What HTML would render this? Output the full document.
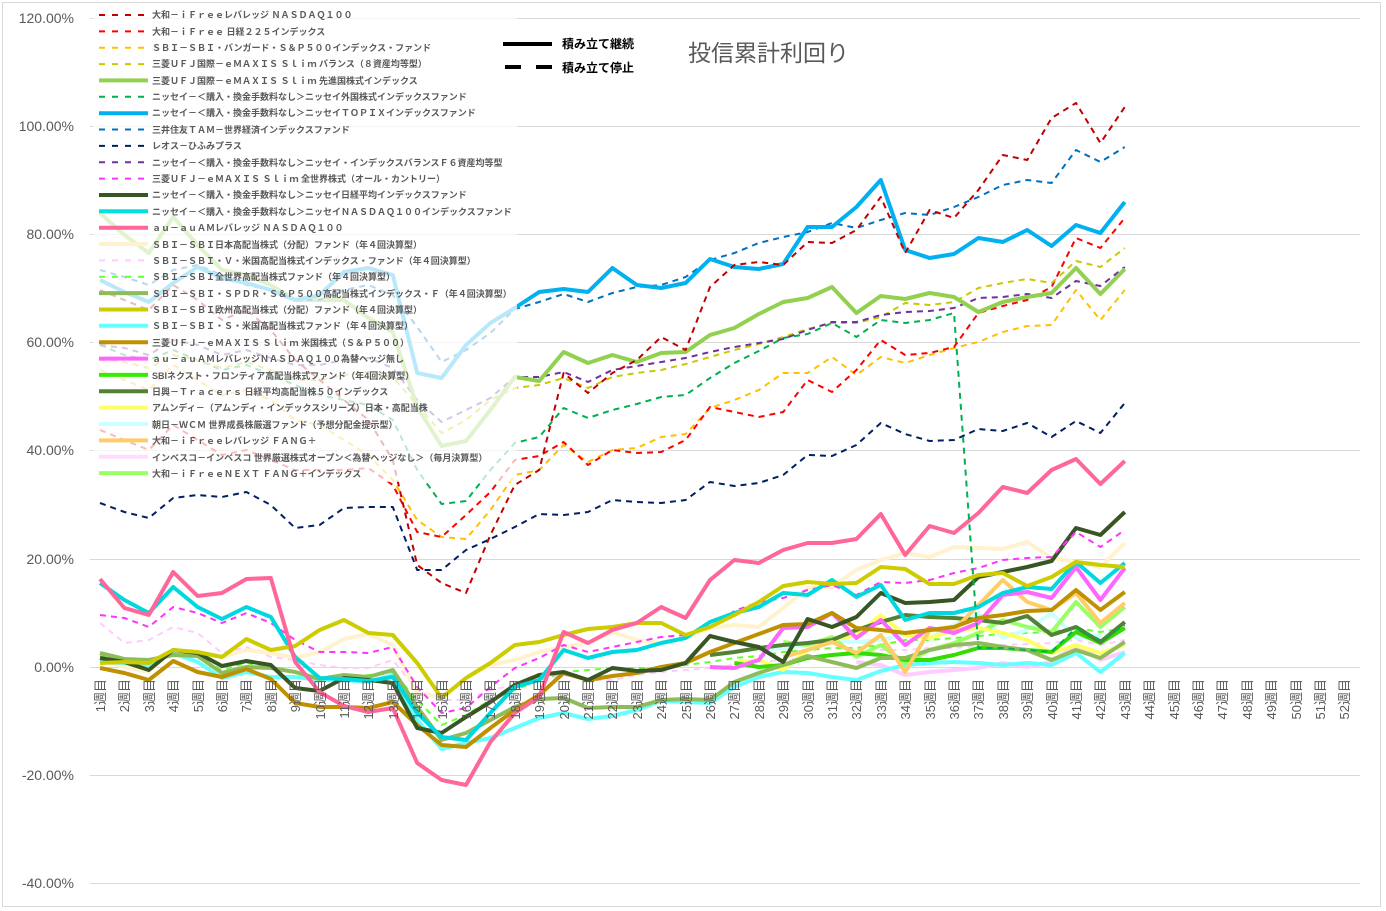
<!DOCTYPE html>
<html><head><meta charset="utf-8"><style>
html,body{margin:0;padding:0;background:#fff;}
svg{display:block;}
.yl{font-family:"Liberation Sans","Noto Sans CJK JP",sans-serif;font-size:14px;fill:#595959;}
.xl{font-family:"Liberation Sans","Noto Sans CJK JP",sans-serif;font-size:13px;fill:#595959;}
.lg{font-family:"Liberation Sans","Noto Sans CJK JP",sans-serif;font-size:9px;font-weight:bold;fill:#595959;}
</style></head><body>
<svg id="c" width="1386" height="911" viewBox="0 0 1386 911" xmlns="http://www.w3.org/2000/svg">
<rect x="0" y="0" width="1386" height="911" fill="#fff"/>
<rect x="2.5" y="2.5" width="1378" height="904" fill="none" stroke="#d9d9d9"/>
<g stroke="#d9d9d9" stroke-width="1">
<line x1="90" x2="1360" y1="18.5" y2="18.5"/><line x1="90" x2="1360" y1="126.5" y2="126.5"/>
<line x1="90" x2="1360" y1="234.5" y2="234.5"/><line x1="90" x2="1360" y1="342.5" y2="342.5"/>
<line x1="90" x2="1360" y1="450.5" y2="450.5"/><line x1="90" x2="1360" y1="559.5" y2="559.5"/>
<line x1="90" x2="1360" y1="667.5" y2="667.5"/><line x1="90" x2="1360" y1="775.5" y2="775.5"/>
<line x1="90" x2="1360" y1="883.5" y2="883.5"/>
</g>
<g class="yl" text-anchor="end">
<text x="74" y="23">120.00%</text><text x="74" y="131">100.00%</text><text x="74" y="239">80.00%</text>
<text x="74" y="347">60.00%</text><text x="74" y="455">40.00%</text><text x="74" y="564">20.00%</text>
<text x="74" y="672">0.00%</text><text x="74" y="780">-20.00%</text><text x="74" y="888">-40.00%</text>
</g>
<g id="series"></g>
<rect x="93" y="5" width="424" height="477" fill="#fff" fill-opacity="0.72"/>
<g id="leg"></g>
<g class="lg">
<text x="152" y="18">大和－ｉＦｒｅｅレバレッジ ＮＡＳＤＡＱ１００</text>
<text x="152" y="35">大和－ｉＦｒｅｅ 日経２２５インデックス</text>
<text x="152" y="51">ＳＢＩ－ＳＢＩ・バンガード・Ｓ＆Ｐ５００インデックス・ファンド</text>
<text x="152" y="67">三菱ＵＦＪ国際－ｅＭＡＸＩＳ Ｓｌｉｍ バランス（８資産均等型）</text>
<text x="152" y="84">三菱ＵＦＪ国際－ｅＭＡＸＩＳ Ｓｌｉｍ 先進国株式インデックス</text>
<text x="152" y="100">ニッセイ－＜購入・換金手数料なし＞ニッセイ外国株式インデックスファンド</text>
<text x="152" y="116">ニッセイ－＜購入・換金手数料なし＞ニッセイＴＯＰＩＸインデックスファンド</text>
<text x="152" y="133">三井住友ＴＡＭ－世界経済インデックスファンド</text>
<text x="152" y="149">レオス－ひふみプラス</text>
<text x="152" y="166">ニッセイ－＜購入・換金手数料なし＞ニッセイ・インデックスバランスＦ６資産均等型</text>
<text x="152" y="182">三菱ＵＦＪ－ｅＭＡＸＩＳ Ｓｌｉｍ 全世界株式（オール・カントリー）</text>
<text x="152" y="198">ニッセイ－＜購入・換金手数料なし＞ニッセイ日経平均インデックスファンド</text>
<text x="152" y="215">ニッセイ－＜購入・換金手数料なし＞ニッセイＮＡＳＤＡＱ１００インデックスファンド</text>
<text x="152" y="231">ａｕ－ａｕＡＭレバレッジ ＮＡＳＤＡＱ１００</text>
<text x="152" y="248">ＳＢＩ－ＳＢＩ日本高配当株式（分配）ファンド（年４回決算型）</text>
<text x="152" y="264">ＳＢＩ－ＳＢＩ・Ｖ・米国高配当株式インデックス・ファンド（年４回決算型）</text>
<text x="152" y="280">ＳＢＩ－ＳＢＩ全世界高配当株式ファンド（年４回決算型）</text>
<text x="152" y="297">ＳＢＩ－ＳＢＩ・ＳＰＤＲ・Ｓ＆Ｐ５００高配当株式インデックス・Ｆ（年４回決算型）</text>
<text x="152" y="313">ＳＢＩ－ＳＢＩ欧州高配当株式（分配）ファンド（年４回決算型）</text>
<text x="152" y="329">ＳＢＩ－ＳＢＩ・Ｓ・米国高配当株式ファンド（年４回決算型）</text>
<text x="152" y="346">三菱ＵＦＪ－ｅＭＡＸＩＳ Ｓｌｉｍ 米国株式（Ｓ＆Ｐ５００）</text>
<text x="152" y="362">ａｕ－ａｕＡＭレバレッジＮＡＳＤＡＱ１００為替ヘッジ無し</text>
<text x="152" y="379">SBIネクスト・フロンティア高配当株式ファンド（年4回決算型）</text>
<text x="152" y="395">日興－Ｔｒａｃｅｒｓ 日経平均高配当株５０インデックス</text>
<text x="152" y="411">アムンディ－（アムンディ・インデックスシリーズ）日本・高配当株</text>
<text x="152" y="428">朝日－ＷＣＭ 世界成長株厳選ファンド（予想分配金提示型）</text>
<text x="152" y="444">大和－ｉＦｒｅｅレバレッジ ＦＡＮＧ＋</text>
<text x="152" y="461">インベスコ－インベスコ 世界厳選株式オープン＜為替ヘッジなし＞（毎月決算型）</text>
<text x="152" y="477">大和－ｉＦｒｅｅＮＥＸＴ ＦＡＮＧ＋インデックス</text>
</g>
<line x1="503" x2="552" y1="44" y2="44" stroke="#000" stroke-width="4"/>
<line x1="505" x2="552" y1="67" y2="67" stroke="#000" stroke-width="4" stroke-dasharray="16,15"/>
<g font-family="Liberation Sans,Noto Sans CJK JP,sans-serif" font-weight="bold" font-size="12" fill="#000">
<text x="562" y="48">積み立て継続</text><text x="562" y="72">積み立て停止</text></g>
<text x="688" y="61" font-family="Liberation Sans,Noto Sans CJK JP,sans-serif" font-size="23" fill="#595959">投信累計利回り</text>
<g class="xl" text-anchor="end">
<text transform="translate(105,679) rotate(-90)">1週目</text><text transform="translate(129,679) rotate(-90)">2週目</text><text transform="translate(154,679) rotate(-90)">3週目</text><text transform="translate(178,679) rotate(-90)">4週目</text><text transform="translate(203,679) rotate(-90)">5週目</text><text transform="translate(227,679) rotate(-90)">6週目</text><text transform="translate(251,679) rotate(-90)">7週目</text><text transform="translate(276,679) rotate(-90)">8週目</text><text transform="translate(300,679) rotate(-90)">9週目</text><text transform="translate(325,679) rotate(-90)">10週目</text><text transform="translate(349,679) rotate(-90)">11週目</text><text transform="translate(373,679) rotate(-90)">12週目</text><text transform="translate(398,679) rotate(-90)">13週目</text><text transform="translate(422,679) rotate(-90)">14週目</text><text transform="translate(447,679) rotate(-90)">15週目</text><text transform="translate(471,679) rotate(-90)">16週目</text><text transform="translate(495,679) rotate(-90)">17週目</text><text transform="translate(520,679) rotate(-90)">18週目</text><text transform="translate(544,679) rotate(-90)">19週目</text><text transform="translate(569,679) rotate(-90)">20週目</text><text transform="translate(593,679) rotate(-90)">21週目</text><text transform="translate(617,679) rotate(-90)">22週目</text><text transform="translate(642,679) rotate(-90)">23週目</text><text transform="translate(666,679) rotate(-90)">24週目</text><text transform="translate(691,679) rotate(-90)">25週目</text><text transform="translate(715,679) rotate(-90)">26週目</text><text transform="translate(739,679) rotate(-90)">27週目</text><text transform="translate(764,679) rotate(-90)">28週目</text><text transform="translate(788,679) rotate(-90)">29週目</text><text transform="translate(813,679) rotate(-90)">30週目</text><text transform="translate(837,679) rotate(-90)">31週目</text><text transform="translate(861,679) rotate(-90)">32週目</text><text transform="translate(886,679) rotate(-90)">33週目</text><text transform="translate(910,679) rotate(-90)">34週目</text><text transform="translate(935,679) rotate(-90)">35週目</text><text transform="translate(959,679) rotate(-90)">36週目</text><text transform="translate(983,679) rotate(-90)">37週目</text><text transform="translate(1008,679) rotate(-90)">38週目</text><text transform="translate(1032,679) rotate(-90)">39週目</text><text transform="translate(1057,679) rotate(-90)">40週目</text><text transform="translate(1081,679) rotate(-90)">41週目</text><text transform="translate(1105,679) rotate(-90)">42週目</text><text transform="translate(1130,679) rotate(-90)">43週目</text><text transform="translate(1154,679) rotate(-90)">44週目</text><text transform="translate(1179,679) rotate(-90)">45週目</text><text transform="translate(1203,679) rotate(-90)">46週目</text><text transform="translate(1227,679) rotate(-90)">47週目</text><text transform="translate(1252,679) rotate(-90)">48週目</text><text transform="translate(1276,679) rotate(-90)">49週目</text><text transform="translate(1301,679) rotate(-90)">50週目</text><text transform="translate(1325,679) rotate(-90)">51週目</text><text transform="translate(1349,679) rotate(-90)">52週目</text>
</g>
</svg>
<script>
var S=[
["#ffccff",1,[623,643,640,627,633,653,647,657,660,665,668,668,660,690,700,700,690,685,680,675,680,680,675,672,670,668,665,662,660,658,655,652,650,650,648,648,646,645,644,643,640,645,640],1],
["#66ff33",1,[655,660,662,653,657,670,663,668,672,680,677,675,672,700,725,715,700,690,680,672,670,668,668,668,665,662,658,656,652,650,648,648,645,640,640,638,636,634,633,632,628,632,628],1],
["#fff2cc",0,[660,667,672,650,653,657,650,653,658,652,639,634,645,693,697,678,665,660,652,647,643,632,640,643,638,628,625,627,608,588,587,570,560,553,557,547,548,549,542,558,562,567,543],1],
["#ffccff",0,[662,665,675,672,670,668,663,667,662,645,660,652],32],
["#66ffff",0,[662,663,665,653,662,678,672,677,677,680,680,682,675,720,749,743,738,728,718,713,719,716,710,701,702,703,687,677,672,673,677,680,671,665,663,662,663,665,663,665,653,672,653],1],
["#ccffff",0,[650,648,645,640,642,640,635,638,625,613,638,630,613,638,635],28],
["#99ff66",0,[642,645,637,657,645,663,650,643,633,620,627,632,602,627,607],29],
["#ffff66",0,[663,660,670,650,640,635,615,635,638,630,628,633,640,653,645,653,645],27],
["#33dd00",0,[663,667,665,658,655,653,655,660,660,655,648,648,650,652,632,643,628],27],
["#548235",0,[655,652,648,645,643,640,630,622,615,617,618,620,623,616,635,627,642,622],26],
["#8fbc5a",0,[653,659,660,655,656,673,667,668,672,679,675,677,670,707,740,733,720,707,699,698,708,707,707,700,699,700,682,673,665,656,662,668,658,658,650,645,643,647,650,660,650,658,642],1],
["#ffcc66",0,[657,650,642,653,635,672,630,630,605,580,602,610,593,623,603],29],
["#ff66ff",0,[667,668,660,628,627,613,638,620,645,628,633,623,595,592,598,567,600,568],26],
["#bf9000",0,[668,673,680,661,672,677,669,679,703,707,707,708,702,725,745,747,728,710,695,673,680,676,673,667,663,652,643,634,625,624,613,628,630,633,630,627,618,615,611,610,590,610,592],1],
["#375623",0,[658,662,670,650,653,666,661,665,688,691,678,680,683,728,733,717,702,685,675,672,680,668,671,670,663,636,642,647,662,619,627,617,593,603,602,600,577,572,567,561,528,535,512],1],
["#ff33ff",1,[615,618,627,607,613,623,613,623,640,652,652,653,647,687,713,708,687,668,658,645,652,647,642,637,635,627,611,602,598,590,585,595,582,583,580,573,568,560,558,557,532,547,530],1],
["#00d8e0",0,[583,600,613,587,607,619,607,617,657,678,679,681,677,713,737,740,713,687,680,650,658,652,650,643,638,622,613,607,593,595,580,597,585,620,613,613,607,593,587,589,562,583,563],1],
["#cccc00",0,[663,662,663,650,652,657,639,650,646,630,620,633,635,663,698,678,663,645,642,635,629,627,623,623,635,627,615,602,586,582,584,583,567,569,584,584,575,573,586,577,562,565,567],1],
["#ff6699",0,[579,608,615,572,596,593,579,578,662,692,706,712,708,763,780,785,742,713,697,632,643,630,623,607,618,580,560,563,550,543,543,539,514,555,526,533,513,487,493,470,459,484,461],1],
["#002060",1,[503,512,518,498,495,497,492,505,528,525,508,507,507,570,570,550,539,527,514,515,512,500,502,503,500,482,486,483,475,455,456,445,423,434,441,440,429,431,423,437,421,433,403],1],
["#00b050",1,[345,355,360,350,360,370,365,375,385,395,400,405,420,470,504,501,470,443,437,408,418,410,404,397,395,378,363,351,338,334,323,337,320,323,320,313,648,648,650,652,628,640,625],1],
["#ffc000",1,[370,380,390,365,380,395,390,400,420,425,440,455,480,520,537,539,510,475,470,445,462,450,448,437,434,408,400,390,373,373,357,375,357,363,355,348,342,332,326,325,290,320,290],1],
["#ff0000",1,[430,440,450,425,440,455,450,460,470,470,470,468,485,532,537,515,492,460,456,442,465,450,453,452,440,407,412,417,412,380,392,370,340,355,353,347,313,306,300,287,238,248,218],1],
["#c9c900",1,[360,362,368,355,360,368,362,370,380,380,375,372,377,405,433,420,400,388,385,378,388,377,373,370,364,357,350,344,337,329,323,323,317,303,305,302,288,283,279,283,261,267,248],1],
["#7030a0",1,[345,348,355,340,345,355,350,358,365,365,360,358,368,400,422,410,398,377,377,372,382,370,366,362,358,352,347,343,339,330,322,322,315,312,311,308,298,297,294,298,281,286,267],1],
["#92d050",0,[213,235,253,217,245,270,275,285,300,300,300,318,332,407,446,441,410,377,381,352,363,355,362,353,352,335,328,314,302,298,287,313,296,299,293,297,312,302,297,293,268,294,269],1],
["#0070c0",1,[270,277,285,270,265,275,285,290,300,300,290,285,295,327,362,350,333,309,302,294,302,293,287,285,277,260,253,243,237,232,223,228,220,213,215,207,197,185,180,183,150,162,147],1],
["#00b0f0",0,[280,292,302,283,267,278,283,290,300,295,272,268,275,373,378,345,323,308,292,289,292,268,285,288,283,259,267,269,264,227,227,207,180,250,258,254,238,242,230,246,225,233,202],1],
["#c00000",1,[290,300,310,285,300,320,310,330,360,380,400,420,460,565,583,593,535,485,470,373,393,373,360,337,350,287,265,262,265,242,243,230,197,253,210,218,190,155,160,118,103,143,107],1]
];
var NS="http://www.w3.org/2000/svg";
var g=document.getElementById("series");
function X(i){return 100+24.4*(i-1);}
S.forEach(function(s){
 var p=[];s[2].forEach(function(v,k){p.push(X(k+s[3]).toFixed(1)+","+v);});
 var e=document.createElementNS(NS,"polyline");
 e.setAttribute("points",p.join(" "));e.setAttribute("fill","none");
 e.setAttribute("stroke",s[0]);e.setAttribute("stroke-linejoin","round");
 if(s[1]){e.setAttribute("stroke-width","2");e.setAttribute("stroke-dasharray","6,5");}
 else e.setAttribute("stroke-width","4");
 g.appendChild(e);
});
var L=[["#c00000",1],["#ff0000",1],["#ffc000",1],["#c9c900",1],["#92d050",0],["#00b050",1],["#00b0f0",0],["#0070c0",1],["#002060",1],["#7030a0",1],["#ff33ff",1],["#375623",0],["#00e0e0",0],["#ff6699",0],["#fff2cc",0],["#ffccff",1],["#66ff33",1],["#8fbc5a",0],["#cccc00",0],["#66ffff",0],["#bf9000",0],["#ff66ff",0],["#33ee00",0],["#548235",0],["#ffff66",0],["#ccffff",0],["#ffcc66",0],["#ffddff",0],["#99ff66",0]];
var lg=document.getElementById("leg");
L.forEach(function(l,k){
 var y=(15+16.36*k).toFixed(1);
 var e=document.createElementNS(NS,"line");
 e.setAttribute("x1","99");e.setAttribute("x2","148");e.setAttribute("y1",y);e.setAttribute("y2",y);
 e.setAttribute("stroke",l[0]);
 if(l[1]){e.setAttribute("stroke-width","2");e.setAttribute("stroke-dasharray","6,7");}
 else e.setAttribute("stroke-width","4");
 lg.appendChild(e);
});
</script>
</body></html>
